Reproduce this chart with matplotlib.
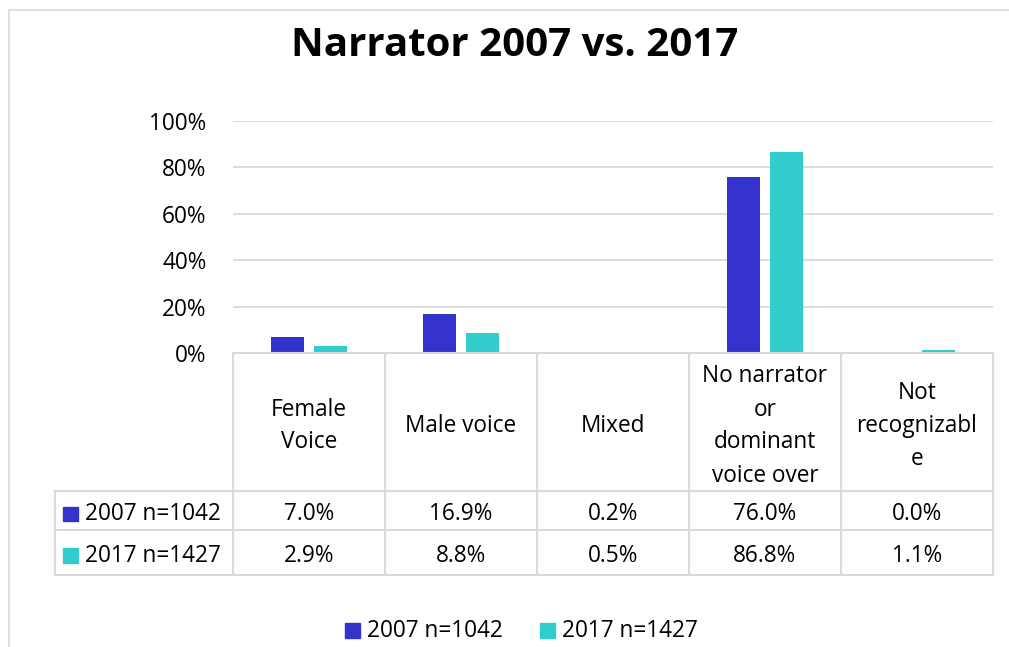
import matplotlib
matplotlib.use("Agg")
import matplotlib.pyplot as plt
from matplotlib.lines import Line2D
from matplotlib.patches import Rectangle
import numpy as np

categories = ["Female\nVoice", "Male voice", "Mixed", "No narrator\nor\ndominant\nvoice over",
              "Not\nrecognizabl\ne"]
series_names = ["2007 n=1042", "2017 n=1427"]
vals_2007 = [7.0, 16.9, 0.2, 76.0, 0.0]
vals_2017 = [2.9, 8.8, 0.5, 86.8, 1.1]
yticks = [0, 20, 40, 60, 80, 100]

C07 = "#3333CC"
C17 = "#33CCCC"
GRID = "#D9D9D9"
W, H = 1009, 647
FS = 16.3

plt.rcParams["font.family"] = ["Open Sans", "DejaVu Sans"]

fig = plt.figure(figsize=(W / 100, H / 100), dpi=100)


def fx(x):
    return x / W


def fy(y):
    return 1 - y / H


def hline(x0, x1, y, color=GRID, lw=1.5):
    fig.add_artist(Line2D([fx(x0), fx(x1)], [fy(y), fy(y)], color=color, lw=lw,
                          transform=fig.transFigure))


def vline(x, y0, y1, color=GRID, lw=1.5):
    fig.add_artist(Line2D([fx(x), fx(x)], [fy(y0), fy(y1)], color=color, lw=lw,
                          transform=fig.transFigure))


# outer chart frame
fig.add_artist(Rectangle((fx(9), fy(H + 5)), fx(W + 10), fy(10) - fy(H + 5),
                         fill=False, ec=GRID, lw=1.2, transform=fig.transFigure))

# plot area
x_left, x_right, y_top, y_bot = 233, 993, 121, 353
ax = fig.add_axes([fx(x_left), fy(y_bot), fx(x_right - x_left), fy(y_top) - fy(y_bot)])
x = np.arange(len(categories))
bw = 0.22
ax.bar(x - 0.143, vals_2007, bw, color=C07, zorder=3)
ax.bar(x + 0.143, vals_2017, bw, color=C17, zorder=3)
ax.set_xlim(-0.5, len(categories) - 0.5)
ax.set_ylim(0, 100)
ax.set_yticks(yticks)
ax.set_yticklabels([f"{t}%" for t in yticks], fontsize=FS)
ax.tick_params(axis="y", length=0, pad=19)
ax.set_xticks([])
ax.grid(axis="y", color=GRID, lw=1.3, zorder=0)
for s in ax.spines.values():
    s.set_visible(False)

# data table
col_edges = [x_left + i * (x_right - x_left) / len(categories) for i in range(len(categories) + 1)]
row_y = [353, 491, 530, 575]
tab_left = 55
hline(x_left, x_right, row_y[0])
for y in row_y[1:]:
    hline(tab_left, x_right, y)
for xe in col_edges:
    vline(xe, row_y[0], row_y[-1])
vline(tab_left, row_y[1], row_y[-1])

for i, cat in enumerate(categories):
    cx = (col_edges[i] + col_edges[i + 1]) / 2
    fig.text(fx(cx), fy((row_y[0] + row_y[1]) / 2 + 4), cat, ha="center", va="center",
             fontsize=FS, linespacing=1.5)
    for r, vals in enumerate([vals_2007, vals_2017]):
        ry = (row_y[r + 1] + row_y[r + 2]) / 2 + 3
        fig.text(fx(cx), fy(ry), f"{vals[i]:.1f}%", ha="center", va="center", fontsize=FS)

for r, (name, col) in enumerate(zip(series_names, [C07, C17])):
    ry = (row_y[r + 1] + row_y[r + 2]) / 2 + 3
    fig.add_artist(Rectangle((fx(63), fy(ry + 7)), fx(15), fy(ry - 7) - fy(ry + 7),
                             color=col, transform=fig.transFigure))
    fig.text(fx(85), fy(ry), name, ha="left", va="center", fontsize=FS)

# legend
for lx, name, col in [(345, series_names[0], C07), (540, series_names[1], C17)]:
    fig.add_artist(Rectangle((fx(lx), fy(638)), fx(15), fy(623) - fy(638),
                             color=col, transform=fig.transFigure))
    fig.text(fx(lx + 22), fy(631), name, ha="left", va="center", fontsize=FS)

fig.text(fx(515), fy(46), "Narrator 2007 vs. 2017", ha="center", va="center",
         fontsize=29, fontweight="bold", family=["Open Sans", "DejaVu Sans"])

fig.savefig("out.png", dpi=100)
